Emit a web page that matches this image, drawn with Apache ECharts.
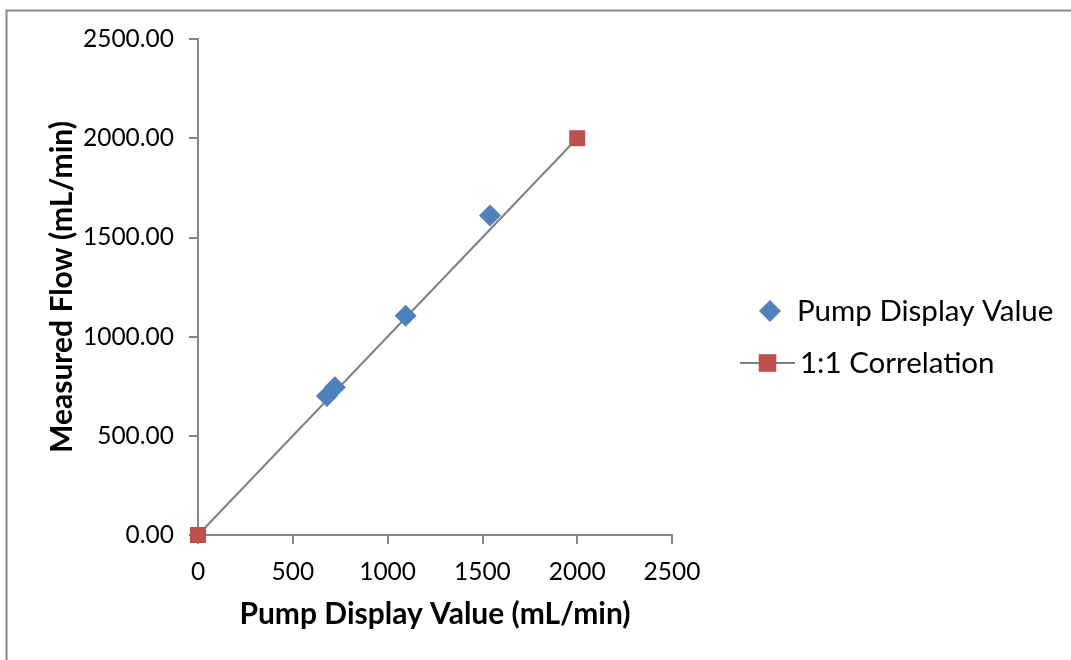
<!DOCTYPE html>
<html>
<head>
<meta charset="utf-8">
<script src="https://cdn.jsdelivr.net/npm/echarts@6/dist/echarts.min.js"></script>
<style>html,body{margin:0;padding:0;background:#fff;}#c{width:1071px;height:660px;}</style>
</head>
<body>
<div id="c"></div>
<script>
// Data
const pumpX = [680, 722, 1095, 1540];
const pumpY = [700, 745, 1105, 1610];
const corrX = [0, 2000];
const corrY = [0, 2000];
const xTicks = [0, 500, 1000, 1500, 2000, 2500];
const yTicks = [0, 500, 1000, 1500, 2000, 2500];
const seriesNames = ['Pump Display Value', '1:1 Correlation'];

const FONT = 'Lato, "Noto Sans", sans-serif';
const chart = echarts.init(document.getElementById('c'));
chart.setOption({
  animation: false,
  backgroundColor: '#fff',
  graphic: [{
    type: 'rect', left: 4, top: 8, silent: true,
    shape: { x: 0, y: 0, width: 1200, height: 800 },
    style: { fill: 'none', stroke: '#868686', lineWidth: 2 }
  }],
  grid: { left: 198, right: 399, top: 39, bottom: 125, containLabel: false },
  xAxis: {
    type: 'value', min: xTicks[0], max: xTicks[xTicks.length - 1], interval: 500,
    name: 'Pump Display Value (mL/min)', nameLocation: 'middle', nameGap: 64,
    nameTextStyle: { fontFamily: FONT, fontSize: 30, fontWeight: 'bold', color: '#000' },
    axisLine: { lineStyle: { color: '#868686', width: 2 } },
    axisTick: { show: true, inside: false, length: 9, lineStyle: { color: '#868686', width: 2 } },
    axisLabel: { fontFamily: FONT, fontSize: 24.5, color: '#000', margin: 25, formatter: v => String(v) },
    splitLine: { show: false }
  },
  yAxis: {
    type: 'value', min: yTicks[0], max: yTicks[yTicks.length - 1], interval: 500,
    name: 'Measured Flow (mL/min)', nameLocation: 'middle', nameGap: 121,
    nameTextStyle: { fontFamily: FONT, fontSize: 30, fontWeight: 'bold', color: '#000' },
    axisLine: { show: true, lineStyle: { color: '#868686', width: 2 } },
    axisTick: { show: true, inside: false, length: 9, lineStyle: { color: '#868686', width: 2 } },
    axisLabel: { fontFamily: FONT, fontSize: 24.5, color: '#000', margin: 24, formatter: v => v.toFixed(2) },
    splitLine: { show: false }
  },
  legend: [{
    data: [seriesNames[0]], orient: 'vertical', left: 754, top: 291,
    itemWidth: 22, itemHeight: 22, icon: 'diamond',
    itemStyle: { opacity: 1 },
    textStyle: { fontFamily: FONT, fontSize: 29.5, color: '#000', padding: [0, 0, 0, 11] }
  }, {
    data: [seriesNames[1]], orient: 'vertical', left: 734, top: 343,
    itemWidth: 55, itemHeight: 22,
    textStyle: { fontFamily: FONT, fontSize: 29.5, color: '#000' }
  }],
  series: [{
    name: seriesNames[0], type: 'scatter', symbol: 'diamond', symbolSize: 22,
    itemStyle: { color: '#4F81BD', opacity: 1 },
    data: pumpX.map((x, i) => [x, pumpY[i]]), z: 3
  }, {
    name: seriesNames[1], type: 'line', symbol: 'rect', symbolSize: 16,
    lineStyle: { color: '#808080', width: 2 },
    itemStyle: { color: '#C0504D' },
    data: corrX.map((x, i) => [x, corrY[i]]), z: 2
  }]
});
</script>
</body>
</html>
